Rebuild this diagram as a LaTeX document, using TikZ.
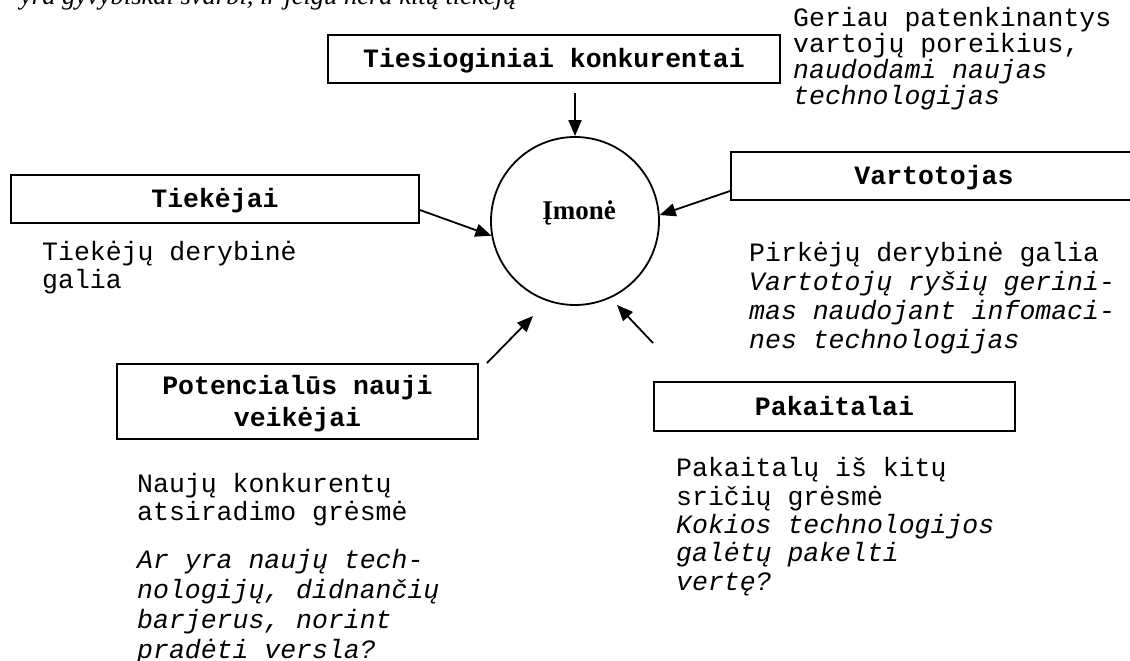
\documentclass[tikz,border=0pt]{standalone}
\usepackage{fontspec}
\setmainfont{Liberation Serif}
\setmonofont{Liberation Mono}
\usetikzlibrary{arrows.meta,calc}
\newcommand{\monosz}{\fontsize{26.5}{29}\selectfont\ttfamily}
\tikzset{
  x=1pt,y=1pt,
  boxnode/.style={draw,line width=1.8pt,inner sep=0pt,font=\monosz\bfseries,text height=18pt,text depth=0pt},
  txt/.style={anchor=base west,inner sep=0pt,font=\monosz},
  arr/.style={line width=1.8pt,-{Triangle[length=16pt,width=13pt]}},
}
\begin{document}
\begin{tikzpicture}
\useasboundingbox (0,0) rectangle (1130,661);
% cut-off line of running text at the top
\node[anchor=base west,inner sep=0pt,font=\fontsize{26.5}{30}\selectfont\itshape] (toptext) at (20,656) {yra gyvybiškai svarbi, ir jeigu nėra kitų tiekėjų};
% boxes
\node[boxnode,minimum width=452pt,minimum height=48pt] (tbox) at (554,602) {Tiesioginiai konkurentai};
\node[boxnode,minimum width=408pt,minimum height=48pt] (sbox) at (215,462) {Tiekėjai};
\node[boxnode,minimum width=406pt,minimum height=48pt] (vbox) at (934,485) {Vartotojas};
\node[boxnode,minimum width=361pt,minimum height=75pt] (pbox) at (297.5,259.5) {};
\node[anchor=base,inner sep=0pt,font=\monosz\bfseries] (ptitle) at (297.5,266) {\vtop{\baselineskip=32pt\halign{\hfil#\hfil\cr Potencialūs nauji\cr veikėjai\cr}}};
\node[boxnode,minimum width=361pt,minimum height=49pt] (kbox) at (834.5,254.5) {Pakaitalai};
% circle
\node[draw,circle,line width=1.8pt,minimum size=168pt,inner sep=0pt] (c) at (575,440) {};
\node[anchor=base,inner sep=0pt,font=\fontsize{27}{30}\selectfont\bfseries] (ctext) at (579,441) {Įmonė};
% free arrow ends
\coordinate (pt) at (533,345);
\coordinate (kt) at (617,356);
% arrows
\draw[arr] ([yshift=43pt]c.north) -- (c.north);
\draw[arr] ([yshift=-11pt]sbox.east) -- (c.190);
\draw[arr] ([yshift=-15pt]vbox.west) -- (c.4);
\draw[arr] ([xshift=8pt]pbox.north east) -- (pt);
\draw[arr] ([yshift=38pt]kbox.north west) -- (kt);
% texts
\node[txt] (rtext) at (793,634) {\vtop{\baselineskip=22pt\halign{#\hfil\cr Geriau patenkinantys\cr vartojų poreikius,\cr \itshape naudodami naujas\cr \itshape technologijas\cr}}};
\node[txt] (stext) at (42,400) {\vtop{\baselineskip=28pt\halign{#\hfil\cr Tiekėjų derybinė\cr galia\cr}}};
\node[txt] (vtext) at (749,399) {\vtop{\baselineskip=29pt\halign{#\hfil\cr Pirkėjų derybinė galia\cr \itshape Vartotojų ryšių gerini-\cr \itshape mas naudojant infomaci-\cr \itshape nes technologijas\cr}}};
\node[txt] (ntext) at (137,168) {\vtop{\baselineskip=28pt\halign{#\hfil\cr Naujų konkurentų\cr atsiradimo grėsmė\cr}}};
\node[txt] (ntext2) at (137,92) {\vtop{\baselineskip=29.7pt\halign{#\hfil\cr \itshape Ar yra naujų tech-\cr \itshape nologijų, didnančių\cr \itshape barjerus, norint\cr \itshape pradėti versla?\cr}}};
\node[txt] (ktext) at (676,184) {\vtop{\baselineskip=28.3pt\halign{#\hfil\cr Pakaitalų iš kitų\cr sričių grėsmė\cr \itshape Kokios technologijos\cr \itshape galėtų pakelti\cr \itshape vertę?\cr}}};
\end{tikzpicture}
\end{document}
